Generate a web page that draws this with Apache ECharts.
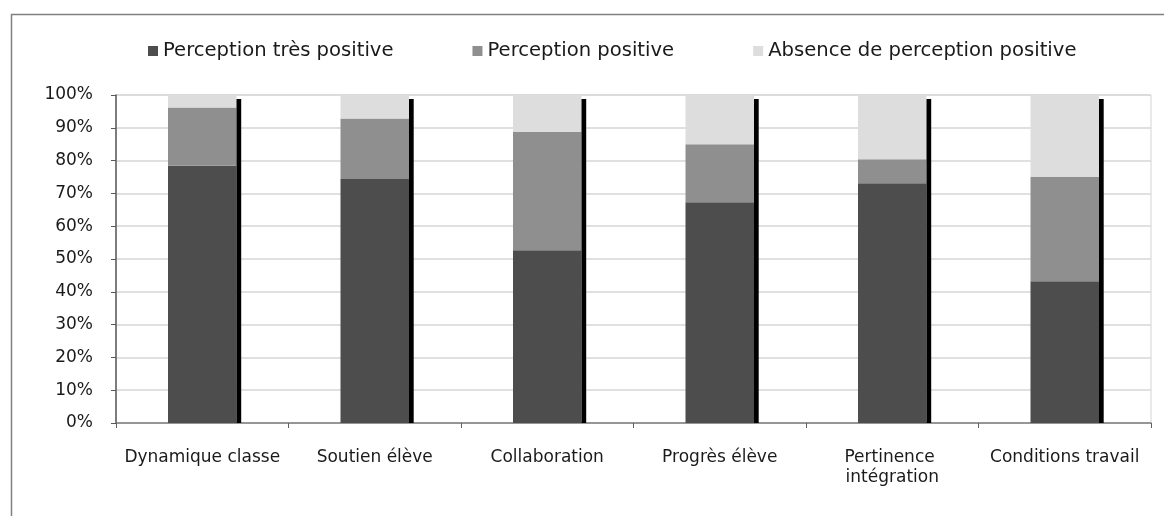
<!DOCTYPE html>
<html>
<head>
<meta charset="utf-8">
<script src="https://cdn.jsdelivr.net/npm/echarts@6/dist/echarts.min.js"></script>
<style>
html,body{margin:0;padding:0;background:#fff;}
#chart{width:1164px;height:516px;}
</style>
</head>
<body>
<div id="chart"></div>
<script>
const categories = ['Dynamique classe', 'Soutien élève', 'Collaboration', 'Progrès élève', 'Pertinence intégration', 'Conditions travail'];
const seriesNames = ['Perception très positive', 'Perception positive', 'Absence de perception positive'];
const tresPositive = [78.4, 74.4, 52.7, 67.3, 73.1, 43.2];
const positive = [17.8, 18.4, 36.1, 17.7, 7.3, 31.8];
const absence = [3.8, 7.2, 11.2, 15.0, 19.6, 25.0];
const edgeValues = [98.8, 98.8, 98.8, 98.8, 98.8, 98.8];
const yTicks = [0, 10, 20, 30, 40, 50, 60, 70, 80, 90, 100];

const colors = ['#4d4d4d', '#8f8f8f', '#dddddd'];
const font = 'DejaVu Sans, Verdana, sans-serif';

const chart = echarts.init(document.getElementById('chart'), null, {renderer: 'canvas'});
const option = {
  animation: false,
  backgroundColor: '#fff',
  textStyle: {fontFamily: font},
  graphic: [{
    type: 'rect',
    shape: {x: 11.5, y: 14.5, width: 1300, height: 700},
    style: {fill: 'none', stroke: '#808080', lineWidth: 1.5},
    silent: true, z: -10
  }],
  legend: {
    data: seriesNames,
    left: 148,
    top: 41,
    padding: 0,
    itemWidth: 10,
    itemHeight: 10,
    itemGap: 79,
    icon: 'rect',
    textStyle: {fontFamily: font, fontSize: 19.6, color: '#1a1a1a'}
  },
  grid: {left: 116, right: 13, top: 95, bottom: 93, show: true, borderColor: '#d4d4d4', borderWidth: 1, backgroundColor: 'transparent'},
  xAxis: {
    type: 'category',
    data: categories,
    boundaryGap: true,
    axisLine: {lineStyle: {color: '#808080', width: 1.5}},
    axisTick: {show: true, length: 5, lineStyle: {color: '#606060'}},
    axisLabel: {
      interval: 0, margin: 25, fontFamily: font, fontSize: 17, color: '#1a1a1a',
      width: 168, overflow: 'break', lineHeight: 20
    }
  },
  yAxis: {
    type: 'value',
    min: yTicks[0],
    max: yTicks[yTicks.length - 1],
    interval: 10,
    axisLine: {show: true, lineStyle: {color: '#595959', width: 1.5}},
    axisTick: {show: true, length: 5, lineStyle: {color: '#595959'}},
    splitLine: {lineStyle: {color: '#d6d6d6', width: 1.5}},
    axisLabel: {formatter: '{value}%', margin: 23, fontFamily: font, fontSize: 17, color: '#1a1a1a'}
  },
  series: [
    {
      name: 'pad', type: 'bar', stack: 'pad', data: edgeValues,
      barWidth: 4.7, barGap: 0, silent: true,
      itemStyle: {color: 'rgba(0,0,0,0)'}
    },
    {
      name: seriesNames[0], type: 'bar', stack: 'total', data: tresPositive,
      barWidth: 68.5, barGap: 0, itemStyle: {color: colors[0]}
    },
    {
      name: seriesNames[1], type: 'bar', stack: 'total', data: positive,
      itemStyle: {color: colors[1]}
    },
    {
      name: seriesNames[2], type: 'bar', stack: 'total', data: absence,
      itemStyle: {color: colors[2]}
    },
    {
      name: 'edge', type: 'bar', stack: 'edge', data: edgeValues,
      barWidth: 4.7, barGap: 0, silent: true,
      itemStyle: {color: '#000000'}
    }
  ]
};
chart.setOption(option);
</script>
</body>
</html>
